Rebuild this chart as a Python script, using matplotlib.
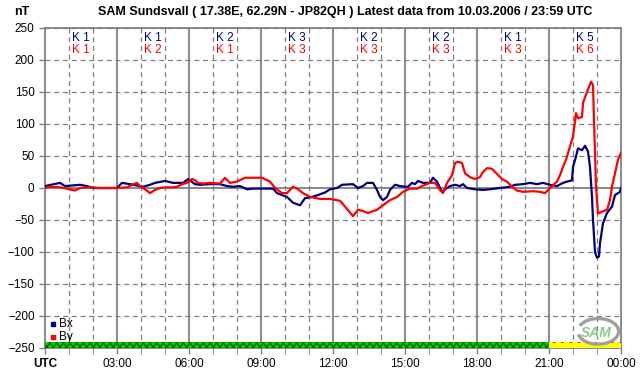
import numpy as np
import matplotlib
matplotlib.use("Agg")
import matplotlib.pyplot as plt
from matplotlib.patches import Rectangle, Arc

plt.rcParams['font.family'] = ['Liberation Sans', 'DejaVu Sans']
plt.rcParams['hatch.linewidth'] = 0.8

# Bx component (hours UTC, nT)
bx_t = [0.0, 0.625, 0.833, 1.458, 1.75, 2.0, 3.0, 3.208, 3.542, 3.958, 4.083, 4.375,
        4.583, 5.0, 5.333, 5.75, 5.958, 6.25, 6.458, 6.875, 7.292, 7.583, 7.833, 8.125,
        8.417, 8.667, 9.5, 9.667, 10.083, 10.333, 10.625, 10.833, 11.125, 11.375,
        11.667, 11.875, 12.167, 12.375, 12.833, 13.042, 13.25, 13.417, 13.667, 13.833,
        13.958, 14.083, 14.25, 14.375, 14.583, 14.792, 15.0, 15.125, 15.292, 15.417,
        15.542, 15.75, 16.042, 16.167, 16.333, 16.542, 16.75, 16.875, 17.083, 17.292,
        17.417, 17.583, 17.917, 18.25, 18.542, 18.958, 19.375, 19.583, 19.917, 20.208,
        20.5, 20.75, 21.042, 21.333, 21.583, 21.75, 21.958, 22.0, 22.125, 22.208,
        22.375, 22.5, 22.625, 22.708, 22.792, 22.833, 22.917, 23.0, 23.083, 23.125,
        23.25, 23.417, 23.625, 23.75, 23.958, 24.0]
bx_v = [3, 8, 3, 5, 3, 0, 0, 8, 6, 3, 2, 5,
        8, 11, 8, 8, 14, 6, 5, 6, 6, 3, 2, 3,
        -2, -1, -1, -8, -14, -23, -27, -16, -14, -11,
        -7, -2, 0, 5, 6, 0, 3, 8, 8, -3,
        -14, -19, -14, -3, 5, 3, 2, 2, 8, 6,
        11, 8, 8, 16, 10, -6, 0, 3, 5, 3,
        6, 0, -2, -3, -2, 0, 2, 5, 6, 8,
        6, 8, 5, 3, 8, 10, 12, 33, 49, 62,
        59, 66, 57, 33, -14, -50, -100, -109, -107, -86,
        -55, -39, -29, -11, -6, 0]

# By component (hours UTC, nT)
by_t = [0.0, 0.208, 0.625, 1.042, 1.25, 1.458, 1.875, 2.292, 3.0, 3.417, 3.625, 3.833,
        3.958, 4.167, 4.375, 4.583, 4.792, 5.0, 5.292, 5.5, 5.708, 5.917, 6.125, 6.25,
        6.375, 6.583, 6.875, 7.292, 7.5, 7.708, 8.0, 8.333, 8.667, 9.042, 9.375, 9.583,
        9.875, 10.083, 10.333, 10.542, 10.75, 11.042, 11.458, 11.875, 12.292, 12.5,
        12.833, 13.042, 13.25, 13.458, 13.833, 14.083, 14.375, 14.667, 14.917, 15.208,
        15.5, 15.708, 16.042, 16.25, 16.458, 16.583, 16.75, 16.958, 17.083, 17.208,
        17.375, 17.5, 17.708, 17.917, 18.125, 18.25, 18.417, 18.625, 18.833, 19.042,
        19.25, 19.458, 19.667, 19.917, 20.333, 20.625, 20.833, 21.042, 21.333, 21.458,
        21.583, 21.708, 21.875, 22.0, 22.125, 22.208, 22.375, 22.417, 22.583, 22.75,
        22.833, 22.875, 22.917, 22.958, 23.042, 23.208, 23.417, 23.542, 23.625, 23.75,
        23.875, 24.0]
by_v = [0, 2, 1, -2, -4, 0, 1, 0, 0, 1, 5, 8,
        3, -2, -8, -3, 0, 1, 1, 2, 6, 8, 14, 12,
        8, 7, 8, 7, 16, 8, 10, 16, 16, 16, 10, 0,
        -8, -8, 2, -2, -8, -14, -17, -17, -20, -29,
        -44, -34, -36, -39, -34, -27, -19, -14, -6, -1,
        -1, 3, 8, 8, -3, -8, 8, 20, 39, 41,
        39, 23, 17, 14, 17, 25, 31, 30, 22, 14,
        10, 2, -4, -6, -5, -6, -8, 0, 10, 20,
        33, 44, 65, 80, 117, 109, 111, 133, 150, 166,
        161, 106, 55, 2, -40, -37, -34, -19, 2, 23,
        44, 55]

# 3-hour K indices
k_bx = [1, 1, 2, 3, 2, 2, 1, 5]
k_by = [1, 2, 1, 3, 3, 3, 3, 6]

x_labels = ['UTC', '03:00', '06:00', '09:00', '12:00', '15:00', '18:00', '21:00', '00:00']

fig = plt.figure(figsize=(6.42, 3.76), dpi=100)
ax = fig.add_axes([45/642, 28/376, 576/642, 320/376])

grid_c = '#808080'
for h in range(1, 24):
    if h % 3 == 0:
        ax.axvline(h, color=grid_c, lw=1.3, zorder=1)
    else:
        ax.axvline(h, color=grid_c, lw=0.9, ls=(0, (4, 3)), zorder=1)
for v in range(-200, 251, 50):
    if v == 0:
        ax.axhline(v, color=grid_c, lw=1.3, zorder=1)
    else:
        ax.axhline(v, color=grid_c, lw=0.9, ls=(0, (4, 3)), zorder=1)

ax.plot(bx_t, bx_v, color='#000080', lw=1.6, zorder=3)
ax.plot(by_t, by_v, color='#ff0000', lw=1.6, zorder=4)

# K index labels
for i in range(8):
    ax.text(3*i + 1.5, 234, f'K {k_bx[i]}', color='#000080', fontsize=8.5,
            ha='center', va='center')
    ax.text(3*i + 1.5, 216, f'K {k_by[i]}', color='#ff0000', fontsize=8.5,
            ha='center', va='center')

# status bar at bottom
ax.add_patch(Rectangle((0, -250), 21, 9, facecolor='#00d000', edgecolor='#006000',
                       hatch='xxxxx', lw=0, zorder=5))
ax.add_patch(Rectangle((21, -250), 3, 9, facecolor='#ffff00', edgecolor='#ff0000',
                       hatch='..', lw=0, zorder=5))

# legend
ax.plot([0.35], [-213], marker='s', ms=3, color='#000080', ls='none')
ax.text(0.6, -213, 'Bx', fontsize=8.5, va='center', color='black')
ax.plot([0.35], [-233], marker='s', ms=3, color='#ff0000', ls='none')
ax.text(0.6, -233, 'By', fontsize=8.5, va='center', color='black')

# logo
ax.add_patch(Arc((23.05, -224), 1.7, 40, theta1=-100, theta2=95, color='#a0a0a0',
                 lw=2.4, zorder=6))
ax.text(22.95, -226, 'SAM', fontsize=10, style='italic', color='#8cc88c',
        fontweight='bold', ha='center', va='center', zorder=7)

ax.set_xlim(0, 24)
ax.set_ylim(-250, 250)
ax.set_xticks(range(0, 25, 3))
ax.set_xticklabels(x_labels)
ax.set_xticks(range(0, 25), minor=True)
ax.set_yticks(range(-250, 251, 50))
ax.tick_params(axis='both', labelsize=8.5, length=4, color=grid_c, width=1)
ax.tick_params(axis='x', which='minor', length=4, color=grid_c)
ax.get_xticklabels()[0].set_fontweight('bold')
for s in ax.spines.values():
    s.set_color(grid_c)
    s.set_linewidth(1.3)

fig.text(22/642, 1 - 12/376, 'nT', fontsize=9, fontweight='bold', ha='center', va='center')
fig.text(345/642, 1 - 12/376,
         'SAM Sundsvall ( 17.38E, 62.29N - JP82QH ) Latest data from 10.03.2006 / 23:59 UTC',
         fontsize=9, fontweight='bold', ha='center', va='center')

fig.savefig('out.png', dpi=100)
